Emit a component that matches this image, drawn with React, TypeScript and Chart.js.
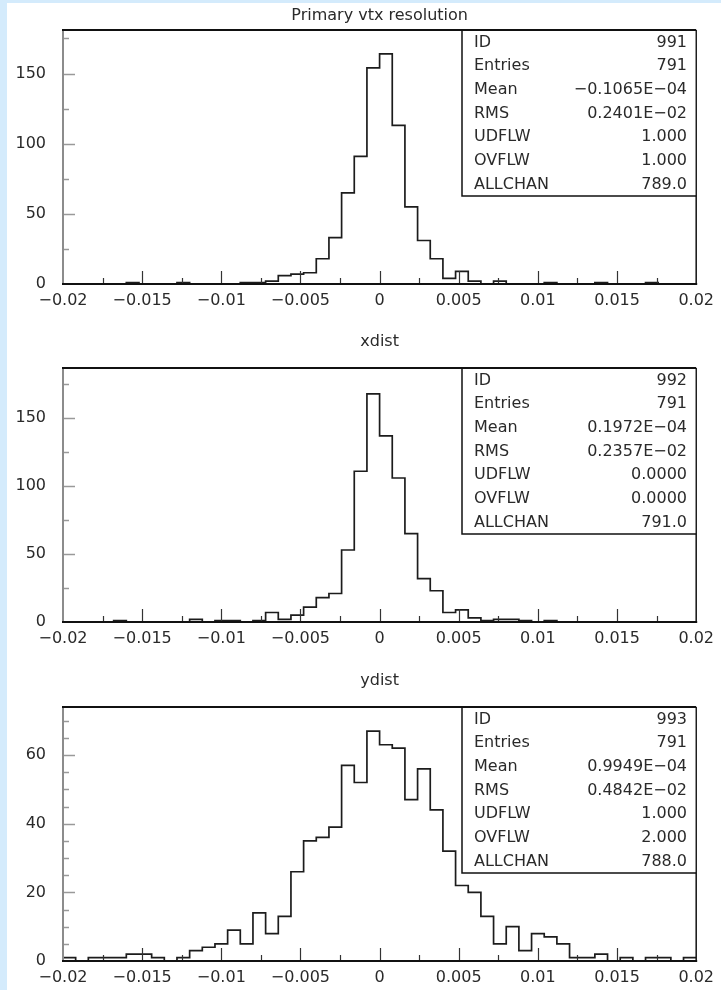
import React, { useEffect, useRef } from 'react';
import { Chart, registerables } from 'chart.js';

Chart.register(...registerables);

// ---- data ----
const BIN_LOW = -0.02;
const BIN_WIDTH = 0.0008; // 50 bins from -0.02 to 0.02

const vtxCounts = [
  0, 0, 0, 0, 0, 1, 0, 0, 0, 1,
  0, 0, 0, 0, 1, 1, 2, 6, 7, 8,
  18, 33, 65, 91, 154, 164, 113, 55, 31, 18,
  4, 9, 2, 0, 2, 0, 0, 0, 1, 0,
  0, 0, 1, 0, 0, 0, 1, 0, 0, 0,
];
const xdistCounts = [
  0, 0, 0, 0, 1, 0, 0, 0, 0, 0,
  2, 0, 1, 1, 0, 1, 7, 2, 5, 11,
  18, 21, 53, 111, 168, 137, 106, 65, 32, 23,
  7, 9, 3, 1, 2, 2, 1, 0, 1, 0,
  0, 0, 0, 0, 0, 0, 0, 0, 0, 0,
];
const ydistCounts = [
  1, 0, 1, 1, 1, 2, 2, 1, 0, 1,
  3, 4, 5, 9, 5, 14, 8, 13, 26, 35,
  36, 39, 57, 52, 67, 63, 62, 47, 56, 44,
  32, 22, 20, 13, 5, 10, 3, 8, 7, 5,
  1, 1, 2, 0, 1, 0, 1, 1, 0, 1,
];

const xTickValues = [-0.02, -0.015, -0.01, -0.005, 0, 0.005, 0.01, 0.015, 0.02];
const xTickLabels = ['\u22120.02', '\u22120.015', '\u22120.01', '\u22120.005', '0', '0.005', '0.01', '0.015', '0.02'];

const yTicksLarge = [0, 50, 100, 150];
const yTicksSmall = [0, 20, 40, 60];

const statLabels = ['ID', 'Entries', 'Mean', 'RMS', 'UDFLW', 'OVFLW', 'ALLCHAN'];
const vtxStats = ['991', '791', '\u22120.1065E\u221204', '0.2401E\u221202', '1.000', '1.000', '789.0'];
const xdistStats = ['992', '791', '0.1972E\u221204', '0.2357E\u221202', '0.0000', '0.0000', '791.0'];
const ydistStats = ['993', '791', '0.9949E\u221204', '0.4842E\u221202', '1.000', '2.000', '788.0'];

const titles = ['Primary vtx resolution', 'xdist', 'ydist'];

// ---- styling ----
const FONT = '"DejaVu Sans", sans-serif';
const TEXT = '#2a2a2a';

type PanelProps = {
  title: string;
  counts: number[];
  ymax: number;
  yTicks: number[];
  yMajor: number;
  yMinor: number;
  stats: string[];
  height: number;
  padTop: number;
  xAxisH: number;
  titleY: number;
  top: number;
};

function Panel(p: PanelProps) {
  const ref = useRef<HTMLCanvasElement>(null);
  useEffect(() => {
    const n = p.counts.length;
    const pts = p.counts.map((c, i) => ({ x: BIN_LOW + i * BIN_WIDTH, y: c }));
    pts.push({ x: BIN_LOW + n * BIN_WIDTH, y: p.counts[n - 1] });

    const deco = {
      id: 'deco',
      afterDraw(chart: any) {
        const ctx = chart.ctx as CanvasRenderingContext2D;
        const { left, right, top, bottom } = chart.chartArea;
        const xs = chart.scales.x;
        const ys = chart.scales.y;
        ctx.save();
        // x ticks (inside, upward)
        ctx.strokeStyle = '#333';
        ctx.lineWidth = 1.2;
        for (let k = 1; k < 16; k++) {
          const v = -0.02 + k * 0.0025;
          const px = Math.round(xs.getPixelForValue(v)) + 0.5;
          const len = k % 2 === 0 ? 13 : 6;
          ctx.beginPath();
          ctx.moveTo(px, bottom);
          ctx.lineTo(px, bottom - len);
          ctx.stroke();
        }
        // y ticks (inside, rightward)
        ctx.strokeStyle = '#999';
        ctx.lineWidth = 1.5;
        for (let k = 1; k * p.yMinor < p.ymax; k++) {
          const v = k * p.yMinor;
          const py = Math.round(ys.getPixelForValue(v)) + 0.5;
          const len = v % p.yMajor === 0 ? 12 : 6;
          ctx.beginPath();
          ctx.moveTo(left, py);
          ctx.lineTo(left + len, py);
          ctx.stroke();
        }
        // frame
        ctx.strokeStyle = '#8c8c8c';
        ctx.lineWidth = 2;
        ctx.beginPath();
        ctx.moveTo(left, top);
        ctx.lineTo(left, bottom);
        ctx.stroke();
        ctx.strokeStyle = '#111';
        ctx.lineWidth = 2;
        ctx.beginPath();
        ctx.moveTo(left - 1, top);
        ctx.lineTo(right, top);
        ctx.stroke();
        ctx.beginPath();
        ctx.moveTo(left - 1, bottom);
        ctx.lineTo(right + 1, bottom);
        ctx.stroke();
        ctx.lineWidth = 1.5;
        ctx.beginPath();
        ctx.moveTo(right, top);
        ctx.lineTo(right, bottom);
        ctx.stroke();
        // stats box
        const bx0 = 462;
        const by1 = top + 166;
        ctx.fillStyle = '#fff';
        ctx.fillRect(bx0, top + 1, right - bx0 - 1, by1 - top - 1);
        ctx.strokeStyle = '#111';
        ctx.lineWidth = 1.5;
        ctx.beginPath();
        ctx.moveTo(bx0, top);
        ctx.lineTo(bx0, by1);
        ctx.lineTo(right, by1);
        ctx.stroke();
        ctx.fillStyle = TEXT;
        ctx.font = `16px ${FONT}`;
        ctx.textBaseline = 'middle';
        statLabels.forEach((lab, i) => {
          const y = top + 12.5 + i * 23.7;
          ctx.textAlign = 'left';
          ctx.fillText(lab, 474, y);
          ctx.textAlign = 'right';
          ctx.fillText(p.stats[i], 687, y);
        });
        // title
        ctx.textAlign = 'center';
        ctx.fillText(p.title, (left + right) / 2, p.titleY);
        ctx.restore();
      },
    };

    const chart = new Chart(ref.current as HTMLCanvasElement, {
      type: 'line',
      data: {
        datasets: [
          {
            data: pts,
            stepped: 'before',
            borderColor: '#1c1c1c',
            borderWidth: 1.7,
            pointRadius: 0,
            fill: false,
          } as any,
        ],
      },
      options: {
        animation: false,
        responsive: false,
        devicePixelRatio: 1,
        layout: { padding: { left: 0, right: 22, top: p.padTop, bottom: 0 } },
        plugins: { legend: { display: false }, tooltip: { enabled: false } },
        scales: {
          x: {
            type: 'linear',
            min: -0.02,
            max: 0.02,
            grid: { display: false, drawTicks: false },
            border: { display: false },
            afterFit: (s: any) => {
              s.height = p.xAxisH;
            },
            afterBuildTicks: (s: any) => {
              s.ticks = xTickValues.map((v) => ({ value: v }));
            },
            ticks: {
              autoSkip: false,
              maxRotation: 0,
              minRotation: 0,
              padding: 7,
              color: TEXT,
              font: { family: FONT, size: 16 },
              callback: (_v: any, i: number) => xTickLabels[i],
            },
          },
          y: {
            type: 'linear',
            min: 0,
            max: p.ymax,
            grid: { display: false, drawTicks: false },
            border: { display: false },
            afterFit: (s: any) => {
              s.width = 63;
            },
            afterBuildTicks: (s: any) => {
              s.ticks = p.yTicks.map((v) => ({ value: v }));
            },
            ticks: {
              padding: 17,
              color: TEXT,
              font: { family: FONT, size: 16 },
              callback: (v: any) => String(v),
            },
          },
        },
      } as any,
      plugins: [deco],
    });
    return () => chart.destroy();
  }, []);
  return (
    <canvas
      ref={ref}
      width={721}
      height={p.height}
      style={{ position: 'absolute', left: 0, top: p.top, width: 721, height: p.height, display: 'block' }}
    />
  );
}

export default function App() {
  useEffect(() => {
    document.body.style.margin = '0';
  }, []);
  return (
    <div style={{ position: 'relative', width: 721, height: 990, background: '#D4EBFC', overflow: 'hidden' }}>
      <div style={{ position: 'absolute', left: 7, top: 3, right: 0, bottom: 0, background: '#fff' }} />
      <Panel
        title={titles[0]}
        counts={vtxCounts}
        ymax={181}
        yTicks={yTicksLarge}
        yMajor={50}
        yMinor={25}
        stats={vtxStats}
        height={320}
        padTop={30}
        xAxisH={36}
        titleY={16}
        top={0}
      />
      <Panel
        title={titles[1]}
        counts={xdistCounts}
        ymax={187}
        yTicks={yTicksLarge}
        yMajor={50}
        yMinor={25}
        stats={xdistStats}
        height={338}
        padTop={48}
        xAxisH={36}
        titleY={22}
        top={320}
      />
      <Panel
        title={titles[2]}
        counts={ydistCounts}
        ymax={74}
        yTicks={yTicksSmall}
        yMajor={20}
        yMinor={5}
        stats={ydistStats}
        height={332}
        padTop={49}
        xAxisH={29}
        titleY={23}
        top={658}
      />
    </div>
  );
}
